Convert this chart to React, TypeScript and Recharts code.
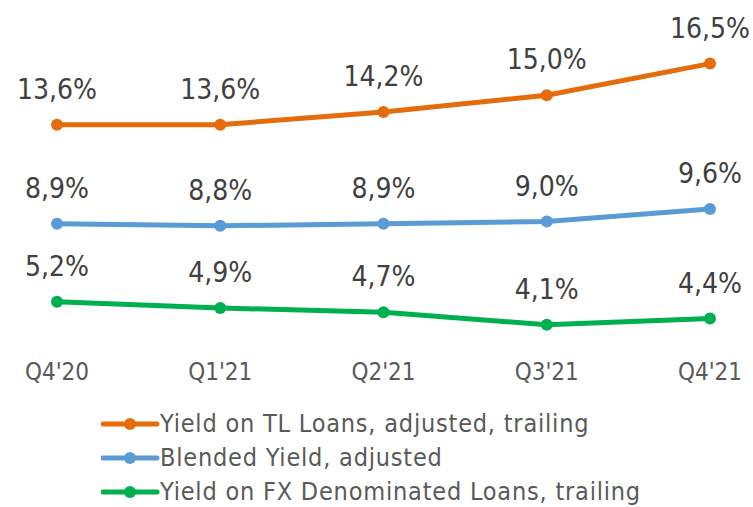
import React from "react";
import { LineChart, Line, XAxis, YAxis, Legend, LabelList } from "recharts";

const quarters = ["Q4'20", "Q1'21", "Q2'21", "Q3'21", "Q4'21"];
const tlYield = [13.6, 13.6, 14.2, 15.0, 16.5];
const blendedYield = [8.9, 8.8, 8.9, 9.0, 9.6];
const fxYield = [5.2, 4.9, 4.7, 4.1, 4.4];

const seriesNames = [
  "Yield on TL Loans, adjusted, trailing",
  "Blended Yield, adjusted",
  "Yield on FX Denominated Loans, trailing",
];
const seriesColors = ["#E46C0A", "#5B9BD5", "#00B050"];

const data = quarters.map((q, i) => ({
  q,
  tl: tlYield[i],
  blended: blendedYield[i],
  fx: fxYield[i],
}));

const FONT = "'DejaVu Sans Condensed', 'DejaVu Sans', sans-serif";
const TEXT = "#404040";
const TEXT_LIGHT = "#595959";

const ValueLabel = (props: any) => {
  const { x, y, value } = props;
  if (x == null || y == null) return null;
  const txt = Number(value).toFixed(1).replace(".", ",") + "%";
  return (
    <text
      x={x}
      y={y - 26}
      textAnchor="middle"
      fill={TEXT}
      fontSize={28}
      fontFamily={FONT}
      style={{ fontStretch: "condensed" }}
    >
      {txt}
    </text>
  );
};

const LegendContent = () => {
  return (
    <div
      style={{
        fontFamily: FONT,
        fontStretch: "condensed",
        fontSize: 25,
        letterSpacing: "0.8px",
        color: TEXT_LIGHT,
      }}
    >
      {seriesNames.map((name, i) => (
        <div
          key={i}
          style={{ display: "flex", alignItems: "center", height: 34, lineHeight: "34px", whiteSpace: "nowrap" }}
        >
          <svg width={59} height={14} style={{ marginRight: 0 }}>
            <line x1={2} y1={7} x2={56} y2={7} stroke={seriesColors[i]} strokeWidth={5} strokeLinecap="round" />
            <circle cx={29} cy={7} r={6} fill={seriesColors[i]} />
          </svg>
          <span>{name}</span>
        </div>
      ))}
    </div>
  );
};

const keys = ["tl", "blended", "fx"];

export default function App() {
  return (
    <div style={{ position: "absolute", left: 0, top: 0, width: 753, height: 507, background: "#fff" }}>
      <LineChart
        width={753}
        height={507}
        data={data}
        margin={{ top: 32, right: 43, bottom: 129, left: 57 }}
        style={{ fontFamily: FONT }}
      >
        <XAxis
          dataKey="q"
          axisLine={false}
          tickLine={false}
          tickSize={0}
          tickMargin={15}
          height={30}
          interval={0}
          tick={{ fill: TEXT_LIGHT, fontSize: 24, fontFamily: FONT, style: { fontStretch: "condensed" } } as any}
        />
        <YAxis hide domain={[3, 18]} />
        <Legend
          layout="vertical"
          align="center"
          verticalAlign="middle"
          wrapperStyle={{ left: 101, top: 407, width: "auto", height: "auto" }}
          content={<LegendContent />}
        />
        {keys.map((k, i) => (
          <Line
            key={k}
            dataKey={k}
            name={seriesNames[i]}
            stroke={seriesColors[i]}
            strokeWidth={5}
            dot={{ r: 6, fill: seriesColors[i], stroke: seriesColors[i], strokeWidth: 0 }}
            activeDot={false}
            isAnimationActive={false}
          >
            <LabelList dataKey={k} content={<ValueLabel />} />
          </Line>
        ))}
      </LineChart>
    </div>
  );
}
